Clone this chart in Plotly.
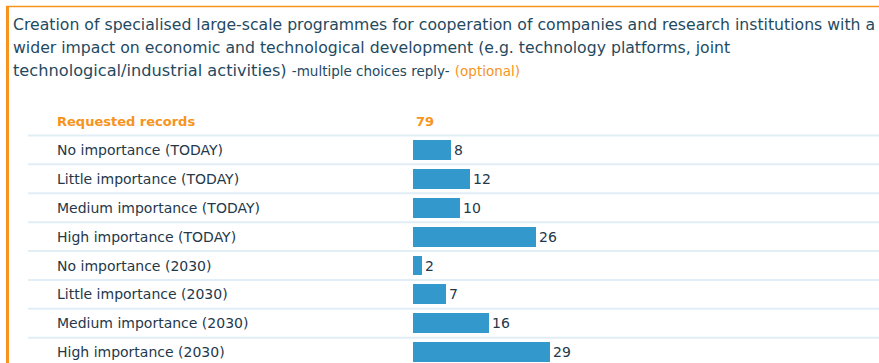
import plotly.graph_objects as go

# Datos del gráfico
categories = [
    'No importance (TODAY)',
    'Little importance (TODAY)',
    'Medium importance (TODAY)',
    'High importance (TODAY)',
    'No importance (2030)',
    'Little importance (2030)',
    'Medium importance (2030)',
    'High importance (2030)',
]
counts = [8, 12, 10, 26, 2, 7, 16, 29]
requested_records = 79

title_lines = [
    'Creation of specialised large-scale programmes for cooperation of companies and research institutions with a',
    'wider impact on economic and technological development (e.g. technology platforms, joint',
    'technological/industrial activities)',
]

W, H = 879, 363
FONT = 'DejaVu Sans'
TEXT = '#1f4a5f'
LABEL = '#24384a'
ORANGE = '#f7941d'
BAR = '#3399cc'
GRID = '#e2eef6'

PX_PER_UNIT = 4.72
BAR_X0 = 413
x_lo = -BAR_X0 / PX_PER_UNIT
x_hi = (W - BAR_X0) / PX_PER_UNIT

ROW = 28.9
TOP = 107
HEADER_Y = 121
y_top = -1 - (HEADER_Y - TOP) / ROW
y_bot = y_top + (H - TOP) / ROW

rows = list(range(len(categories)))

fig = go.Figure()
fig.add_trace(go.Bar(
    x=counts,
    y=rows,
    orientation='h',
    width=0.69,
    marker=dict(color=BAR, line=dict(width=0)),
    text=counts,
    textposition='outside',
    textfont=dict(family=FONT, size=14, color=LABEL),
    cliponaxis=False,
    hoverinfo='skip',
))

shapes = []
# separadores de filas
for i in rows:
    shapes.append(dict(type='line', xref='paper', yref='y',
                       x0=28 / W, x1=1, y0=i - 0.5, y1=i - 0.5,
                       line=dict(color=GRID, width=2)))
# borde naranja
shapes.append(dict(type='line', xref='paper', yref='paper',
                   x0=7.5 / W, x1=7.5 / W, y0=0, y1=1 + (TOP - 6) / (H - TOP),
                   line=dict(color=ORANGE, width=3)))
shapes.append(dict(type='line', xref='paper', yref='paper',
                   x0=6 / W, x1=1, y0=1 + (TOP - 6.5) / (H - TOP), y1=1 + (TOP - 6.5) / (H - TOP),
                   line=dict(color=ORANGE, width=1.5)))

annotations = []
for i, cat in zip(rows, categories):
    annotations.append(dict(x=55 / W, y=i, xref='paper', yref='y', text=cat,
                            showarrow=False, xanchor='left', yanchor='middle',
                            font=dict(family=FONT, size=14, color=LABEL)))
annotations.append(dict(x=55 / W, y=-1, xref='paper', yref='y', text='<b>Requested records</b>',
                        showarrow=False, xanchor='left', yanchor='middle',
                        font=dict(family=FONT, size=13, color=ORANGE)))
annotations.append(dict(x=0, y=-1, xref='x', yref='y', text=f'<b>{requested_records}</b>',
                        showarrow=False, xanchor='left', yanchor='middle', xshift=1,
                        font=dict(family=FONT, size=13, color=ORANGE)))

# título en tres líneas
line_y = [24, 47, 70]
for k, (txt, yy) in enumerate(zip(title_lines, line_y)):
    size = 15.7
    if k == 2:
        size = 16.2
        txt = (txt + ' <span style="font-size:13.5px">-multiple choices reply-</span> '
               '<span style="font-size:13.5px;color:%s">(optional)</span>' % ORANGE)
    annotations.append(dict(x=11 / W, y=1 + (TOP - yy) / (H - TOP), xref='paper', yref='paper',
                            text=txt, showarrow=False, xanchor='left', yanchor='middle',
                            font=dict(family=FONT, size=size, color=TEXT)))

fig.update_layout(
    width=W, height=H,
    margin=dict(l=0, r=0, t=TOP, b=0),
    paper_bgcolor='white', plot_bgcolor='white',
    showlegend=False,
    xaxis=dict(range=[x_lo, x_hi], visible=False, fixedrange=True),
    yaxis=dict(range=[y_bot, y_top], visible=False, fixedrange=True),
    shapes=shapes,
    annotations=annotations,
    bargap=0,
)

# quitar el margen por defecto del body para que la figura empiece en (0, 0)
fig.write_html('out.html', config={'displayModeBar': False},
               post_script="document.body.style.margin='0';")
